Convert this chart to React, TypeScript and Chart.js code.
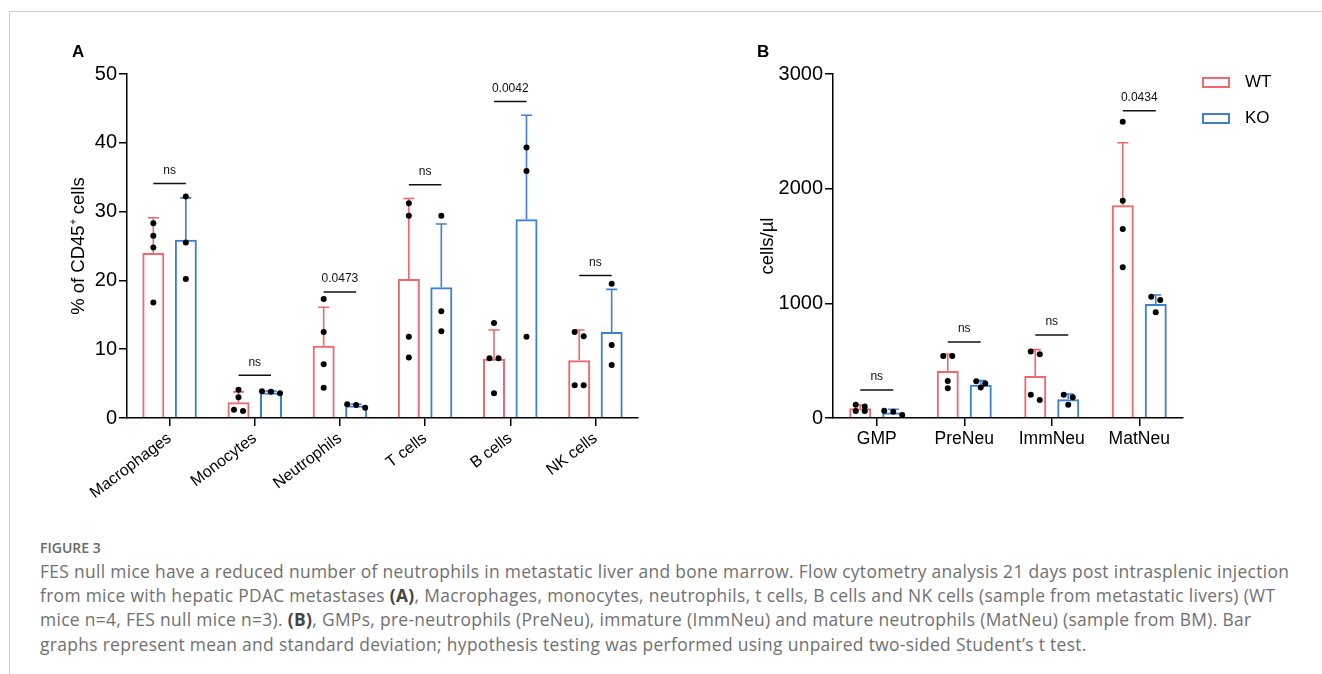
import React, { useEffect, useRef } from "react";
import { Chart, registerables } from "chart.js";

Chart.register(...registerables);

const RED = "#F0676E";
const BLUE = "#3D7FD3";
const FONT = "'Liberation Sans', Arial, Helvetica, sans-serif";
const CAPTION_FONT = "'Open Sans', 'Noto Sans', sans-serif";

// ---------- Panel A data (% of CD45+ cells) ----------
const catsA = ["Macrophages", "Monocytes", "Neutrophils", "T cells", "B cells", "NK cells"];
const wtMeanA = [24.0, 2.3, 10.5, 20.2, 8.6, 8.4];
const wtSdA = [5.1, 1.5, 5.6, 11.7, 4.2, 4.4];
const koMeanA = [25.9, 3.7, 1.8, 19.0, 28.9, 12.5];
const koSdA = [6.1, 0.2, 0.2, 9.2, 15.1, 6.2];
const wtPtsA = [
  [28.3, 26.5, 24.8, 16.8],
  [4.1, 3.0, 1.0, 1.2],
  [17.3, 12.5, 7.8, 4.4],
  [31.2, 29.4, 11.8, 8.8],
  [13.8, 8.7, 8.7, 3.6],
  [11.9, 12.5, 4.75, 4.75],
];
const koPtsA = [
  [32.2, 25.5, 20.2],
  [3.6, 3.9, 3.8],
  [1.5, 2.0, 1.9],
  [29.4, 15.5, 12.6],
  [39.3, 35.9, 11.8],
  [19.5, 10.6, 7.7],
];
const sigTextA = ["ns", "ns", "0.0473", "ns", "0.0042", "ns"];
const sigLevelA = [34.1, 6.2, 18.3, 33.9, 46.0, 20.7];
const yTicksA = { min: 0, max: 50, step: 10 };

// ---------- Panel B data (cells/µl) ----------
const catsB = ["GMP", "PreNeu", "ImmNeu", "MatNeu"];
const wtMeanB = [84, 410, 366, 1855];
const wtSdB = [29, 148, 230, 546];
const koMeanB = [49, 291, 163, 994];
const koSdB = [27, 35, 46, 79];
const wtPtsB = [
  [115, 100, 60, 62],
  [541, 541, 323, 259],
  [555, 581, 157, 203],
  [2584, 1895, 1648, 1314],
];
const koPtsB = [
  [26, 64, 55],
  [320, 265, 300],
  [203, 180, 116],
  [1058, 1029, 922],
];
const sigTextB = ["ns", "ns", "ns", "0.0434"];
const sigLevelB = [244, 663, 724, 2680];
const yTicksB = { min: 0, max: 3000, step: 1000 };

const seriesLabels = ["WT", "KO"];

function beeswarm(pxs: number[], thr: number, spacing: number): number[] {
  const idx = pxs.map((_, i) => i).sort((a, b) => pxs[a] - pxs[b]);
  const offs = new Array(pxs.length).fill(0);
  let row: number[] = [];
  const flush = () => {
    row.forEach((k, j) => {
      offs[k] = (j - (row.length - 1) / 2) * spacing;
    });
  };
  for (const k of idx) {
    if (row.length && pxs[k] - pxs[row[0]] >= thr) {
      flush();
      row = [];
    }
    row.push(k);
  }
  flush();
  return offs;
}

function makeOverlay(sd: number[][], pts: number[][][], colors: string[], sigText: string[], sigLevel: number[]) {
  return {
    id: "overlay",
    afterDatasetsDraw(chart: any) {
      const ctx = chart.ctx;
      const y = chart.scales.y;
      [0, 1].forEach((d) => {
        const meta = chart.getDatasetMeta(d);
        meta.data.forEach((bar: any, i: number) => {
          const mean = chart.data.datasets[d].data[i];
          const x = bar.x;
          const yTop = y.getPixelForValue(mean);
          const yCap = y.getPixelForValue(mean + sd[d][i]);
          ctx.save();
          ctx.strokeStyle = colors[d];
          ctx.lineWidth = 1.6;
          ctx.beginPath();
          ctx.moveTo(x, yTop);
          ctx.lineTo(x, yCap);
          ctx.moveTo(x - 5.5, yCap);
          ctx.lineTo(x + 5.5, yCap);
          ctx.stroke();
          const pxs = pts[d][i].map((v) => y.getPixelForValue(v));
          const offs = beeswarm(pxs, 5.8, 9);
          ctx.fillStyle = "#000";
          pxs.forEach((py, k) => {
            ctx.beginPath();
            ctx.arc(x + offs[k], py, 3, 0, Math.PI * 2);
            ctx.fill();
          });
          ctx.restore();
        });
      });
      const m0 = chart.getDatasetMeta(0);
      const m1 = chart.getDatasetMeta(1);
      sigText.forEach((s, i) => {
        const x0 = m0.data[i].x;
        const x1 = m1.data[i].x;
        const py = y.getPixelForValue(sigLevel[i]);
        ctx.save();
        ctx.strokeStyle = "#111";
        ctx.lineWidth = 1.5;
        ctx.beginPath();
        ctx.moveTo(x0, py);
        ctx.lineTo(x1, py);
        ctx.stroke();
        ctx.fillStyle = "#111";
        ctx.font = `12px ${FONT}`;
        ctx.textAlign = "center";
        ctx.textBaseline = "middle";
        ctx.fillText(s, (x0 + x1) / 2, py - 13);
        ctx.restore();
      });
    },
  };
}

type PanelProps = {
  cats: string[];
  wtMean: number[];
  koMean: number[];
  wtSd: number[];
  koSd: number[];
  wtPts: number[][];
  koPts: number[][];
  sigText: string[];
  sigLevel: number[];
  yT: { min: number; max: number; step: number };
  yTitle: string;
  rotation: number;
  xFont: number;
  left: number;
  width: number;
  height: number;
  pad: { left: number; top: number; right: number };
  yWidth: number;
  xHeight: number;
  catPct: number;
  barPct: number;
};

function Panel(p: PanelProps) {
  const ref = useRef<HTMLCanvasElement>(null);
  useEffect(() => {
    if (!ref.current) return;
    const chart = new Chart(ref.current, {
      type: "bar",
      data: {
        labels: p.cats,
        datasets: [
          {
            label: seriesLabels[0],
            data: p.wtMean,
            borderColor: RED,
            backgroundColor: "rgba(255,255,255,0)",
            borderWidth: 2,
            categoryPercentage: p.catPct,
            barPercentage: p.barPct,
          },
          {
            label: seriesLabels[1],
            data: p.koMean,
            borderColor: BLUE,
            backgroundColor: "rgba(255,255,255,0)",
            borderWidth: 2,
            categoryPercentage: p.catPct,
            barPercentage: p.barPct,
          },
        ],
      },
      options: {
        responsive: false,
        animation: false,
        devicePixelRatio: 1,
        layout: { padding: { left: p.pad.left, top: p.pad.top, right: p.pad.right, bottom: 0 } },
        plugins: { legend: { display: false }, tooltip: { enabled: false } },
        scales: {
          x: {
            type: "category",
            offset: true,
            grid: {
              offset: false,
              drawOnChartArea: false,
              drawTicks: true,
              tickLength: 8,
              color: "#000",
              tickColor: "#000",
              lineWidth: 1.5,
              tickWidth: 1.5,
            },
            border: { color: "#000", width: 1.5 },
            ticks: {
              color: "#000",
              font: { family: FONT, size: p.xFont },
              minRotation: p.rotation,
              maxRotation: p.rotation,
              autoSkip: false,
              padding: 3,
            },
            afterFit: (s: any) => {
              s.height = p.xHeight;
            },
          },
          y: {
            min: p.yT.min,
            max: p.yT.max,
            ticks: {
              stepSize: p.yT.step,
              color: "#000",
              font: { family: FONT, size: 20 },
              padding: 2,
              callback: (v: any) => String(v),
            },
            grid: {
              drawOnChartArea: false,
              drawTicks: true,
              tickLength: 8,
              color: "#000",
              tickColor: "#000",
              lineWidth: 1.5,
              tickWidth: 1.5,
            },
            border: { color: "#000", width: 1.5 },
            title: {
              display: true,
              text: p.yTitle,
              color: "#000",
              font: { family: FONT, size: 18.5 },
              padding: { top: 4, bottom: 4 },
            },
            afterFit: (s: any) => {
              s.width = p.yWidth;
            },
          },
        },
      } as any,
      plugins: [makeOverlay([p.wtSd, p.koSd], [p.wtPts, p.koPts], [RED, BLUE], p.sigText, p.sigLevel)],
    });
    return () => chart.destroy();
  }, []);
  return (
    <canvas
      ref={ref}
      width={p.width}
      height={p.height}
      style={{ position: "absolute", left: p.left, top: 0, width: p.width, height: p.height }}
    />
  );
}

const captionLines = [
  "FES null mice have a reduced number of neutrophils in metastatic liver and bone marrow. Flow cytometry analysis 21 days post intrasplenic injection",
  "from mice with hepatic PDAC metastases |(A)|, Macrophages, monocytes, neutrophils, t cells, B cells and NK cells (sample from metastatic livers) (WT",
  "mice n=4, FES null mice n=3). |(B)|, GMPs, pre-neutrophils (PreNeu), immature (ImmNeu) and mature neutrophils (MatNeu) (sample from BM). Bar",
  "graphs represent mean and standard deviation; hypothesis testing was performed using unpaired two-sided Student\u2019s t test.",
];

function CaptionLine({ text }: { text: string }) {
  const parts = text.split("|");
  return (
    <div style={{ whiteSpace: "nowrap" }}>
      {parts.map((t, i) =>
        i % 2 === 1 ? (
          <b key={i} style={{ color: "#444", fontWeight: 700 }}>
            {t}
          </b>
        ) : (
          <span key={i}>{t}</span>
        )
      )}
    </div>
  );
}

export default function App() {
  return (
    <div style={{ position: "absolute", left: 0, top: 0, width: 1322, height: 674, background: "#fff", overflow: "hidden" }}>
      <div
        style={{
          position: "absolute",
          left: 9,
          top: 11,
          width: 1330,
          height: 700,
          borderTop: "1px solid #cfcfcf",
          borderLeft: "1px solid #cfcfcf",
        }}
      />
      <Panel
        cats={catsA}
        wtMean={wtMeanA}
        koMean={koMeanA}
        wtSd={wtSdA}
        koSd={koSdA}
        wtPts={wtPtsA}
        koPts={koPtsA}
        sigText={sigTextA}
        sigLevel={sigLevelA}
        yT={yTicksA}
        yTitle={"% of CD45\u207A cells"}
        rotation={37}
        xFont={16}
        left={0}
        width={700}
        height={520}
        pad={{ left: 64, top: 74, right: 62 }}
        yWidth={63}
        xHeight={102}
        catPct={0.763}
        barPct={0.677}
      />
      <Panel
        cats={catsB}
        wtMean={wtMeanB}
        koMean={koMeanB}
        wtSd={wtSdB}
        koSd={koSdB}
        wtPts={wtPtsB}
        koPts={koPtsB}
        sigText={sigTextB}
        sigLevel={sigLevelB}
        yT={yTicksB}
        yTitle={"cells/\u00B5l"}
        rotation={0}
        xFont={17.5}
        left={700}
        width={622}
        height={520}
        pad={{ left: 53, top: 74, right: 139 }}
        yWidth={80}
        xHeight={102}
        catPct={0.754}
        barPct={0.667}
      />
      <div style={{ position: "absolute", left: 72, top: 42, font: `bold 17px ${FONT}`, color: "#000" }}>A</div>
      <div style={{ position: "absolute", left: 757, top: 42, font: `bold 17px ${FONT}`, color: "#000" }}>B</div>
      {[
        { label: seriesLabels[0], color: RED, top: 77 },
        { label: seriesLabels[1], color: BLUE, top: 113 },
      ].map((l) => (
        <React.Fragment key={l.label}>
          <div
            style={{
              position: "absolute",
              left: 1202,
              top: l.top,
              width: 28,
              height: 11,
              boxSizing: "border-box",
              border: `2px solid ${l.color}`,
            }}
          />
          <div
            style={{
              position: "absolute",
              left: 1245,
              top: l.top - 5,
              lineHeight: "20px",
              font: `17px ${FONT}`,
              color: "#000",
            }}
          >
            {l.label}
          </div>
        </React.Fragment>
      ))}
      <div
        style={{
          position: "absolute",
          left: 40,
          top: 539,
          font: `600 14px ${CAPTION_FONT}`,
          color: "#6a6a6a",
          lineHeight: "18px",
        }}
      >
        FIGURE 3
      </div>
      <div
        style={{
          position: "absolute",
          left: 40,
          top: 559,
          fontFamily: CAPTION_FONT,
          fontSize: "17.4px",
          letterSpacing: "0.33px",
          fontWeight: 400,
          color: "#707070",
          lineHeight: "24.2px",
        }}
      >
        {captionLines.map((t, i) => (
          <CaptionLine key={i} text={t} />
        ))}
      </div>
    </div>
  );
}
